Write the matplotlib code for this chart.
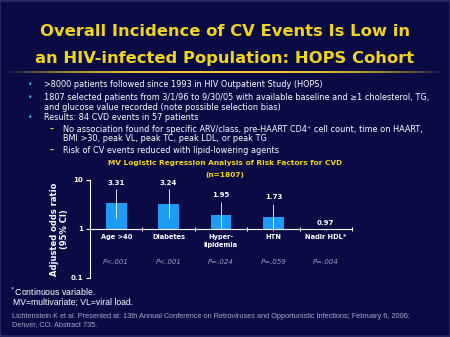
import numpy as np
import matplotlib
matplotlib.use("Agg")
import matplotlib.pyplot as plt

# risk factors from the MV logistic regression (n=1807)
factors = ["Age >40", "Diabetes", "Hyper-\nlipidemia", "HTN", "Nadir HDL*"]
odds = [3.31, 3.24, 1.95, 1.73, 0.97]
ci_low = [1.70, 1.65, 1.05, 0.92, 0.95]
ci_high = [6.50, 6.50, 3.60, 3.25, 0.99]
pvals = ["P<.001", "P<.001", "P=.024", "P=.059", "P=.004"]

bullets = [
    [">8000 patients followed since 1993 in HIV Outpatient Study (HOPS)"],
    ["1807 selected patients from 3/1/96 to 9/30/05 with available baseline and \u22651 cholesterol, TG,",
     "and glucose value recorded (note possible selection bias)"],
    ["Results: 84 CVD events in 57 patients"],
]
subbullets = [
    ["No association found for specific ARV/class, pre-HAART CD4\u207a cell count, time on HAART,",
     "BMI >30, peak VL, peak TC, peak LDL, or peak TG"],
    ["Risk of CV events reduced with lipid-lowering agents"],
]

bg = "#0a0a45"
gold = "#f2d31c"
barblue = "#1e9cf5"

W, H = 450, 337
fig = plt.figure(figsize=(4.5, 3.37), dpi=100, facecolor=bg)

def fx(px):
    return px / W

def fy(py):
    return 1 - py / H

# thin lighter frame round the slide
fig.patches.append(plt.Rectangle((0.001, 0.0015), 0.998, 0.997, transform=fig.transFigure,
                                 fill=False, edgecolor="#2c2c68", lw=1.2))

# title
fig.text(0.5, fy(32), "Overall Incidence of CV Events Is Low in", color=gold,
         fontsize=11.8, fontweight="bold", ha="center", va="center")
fig.text(0.5, fy(59), "an HIV-infected Population: HOPS Cohort", color=gold,
         fontsize=11.8, fontweight="bold", ha="center", va="center")

# gold rule under the title, bright in the middle
rule = fig.add_axes([fx(4), fy(73.5), fx(442), 2.5 / H])
grad = np.linspace(-1, 1, 400)
rgba = np.zeros((1, 400, 4))
rgba[..., 0], rgba[..., 1], rgba[..., 2] = 0.95, 0.80, 0.15
rgba[0, :, 3] = np.clip(1 - np.abs(grad) ** 3, 0, 1)
rule.imshow(rgba, aspect="auto", extent=[0, 1, 0, 1])
rule.axis("off")

# bullet list, one text per line
body = dict(color="white", fontsize=5.9, va="center")
ys = [85, 97, 118]
for y, lines in zip(ys, bullets):
    fig.text(fx(28), fy(y), "\u2022", color="#4aa8e8", fontsize=5.5, va="center")
    for i, t in enumerate(lines):
        fig.text(fx(44), fy(y + 10 * i), t, **body)
subys = [129, 150]
for y, lines in zip(subys, subbullets):
    fig.text(fx(50), fy(y), "\u2013", color=gold, fontsize=6, va="center",
             fontweight="bold")
    for i, t in enumerate(lines):
        fig.text(fx(63), fy(y + 9.5 * i), t, **body)

# chart title
fig.text(0.5, fy(162.5), "MV Logistic Regression Analysis of Risk Factors for CVD",
         color=gold, fontsize=5.3, fontweight="bold", ha="center", va="center")
fig.text(0.5, fy(175), "(n=1807)", color=gold, fontsize=5.3,
         fontweight="bold", ha="center", va="center")

# bar chart on a log scale, bars rising from an odds ratio of 1
ax = fig.add_axes([fx(90), fy(277.7), fx(262), (277.7 - 180) / H])
ax.set_facecolor("none")
ax.set_yscale("log")
ax.set_ylim(0.1, 10)
ax.set_xlim(0, len(factors))

x = np.arange(len(factors)) + 0.5
heights = np.array(odds) - 1
ax.bar(x, heights, bottom=1, width=0.4, color=barblue, zorder=2)
ax.vlines(x, ci_low, ci_high, color="white", lw=0.6, zorder=3)
for xi, hi, v in zip(x, ci_high, odds):
    ax.annotate(f"{v:.2f}", (xi, hi), xytext=(0, 2.5), textcoords="offset points",
                ha="center", va="bottom", color="white", fontsize=5,
                fontweight="bold")

for s in ["top", "right"]:
    ax.spines[s].set_visible(False)
ax.spines["left"].set_color("white")
ax.spines["left"].set_linewidth(0.8)
ax.spines["bottom"].set_position(("data", 1))
ax.spines["bottom"].set_color("white")
ax.spines["bottom"].set_linewidth(0.8)
ax.spines["bottom"].set_zorder(4)

ax.set_yticks([0.1, 1, 10])
ax.set_yticklabels(["0.1", "1", "10"])
ax.yaxis.set_minor_locator(matplotlib.ticker.NullLocator())
ax.tick_params(axis="y", colors="white", labelsize=5, length=3, width=0.8, pad=2)
for lab in ax.get_yticklabels():
    lab.set_fontweight("bold")

ax.set_xticks(np.arange(1, len(factors) + 1))
ax.set_xticklabels([])
ax.tick_params(axis="x", which="major", colors="white", direction="inout",
               length=3, width=0.8)
ax.set_xticks(x, minor=True)
ax.set_xticklabels(factors, minor=True)
ax.tick_params(axis="x", which="minor", length=0, colors="white",
               labelsize=4.8, pad=4)
for lab in ax.get_xticklabels(minor=True):
    lab.set_fontweight("bold")
    lab.set_va("top")
    lab.set_linespacing(1.3)

trans = matplotlib.transforms.blended_transform_factory(ax.transData, ax.transAxes)
for xi, p in zip(x, pvals):
    ax.text(xi, 0.165, p, transform=trans, ha="center", va="center",
            color="#9a9ab8", fontsize=5, style="italic")

ax.set_ylabel("Adjusted odds ratio\n(95% CI)", color="white", fontsize=6,
              fontweight="bold", labelpad=1, linespacing=1.2)

# footnotes
fig.text(fx(9), fy(292), "$^*$Continuous variable.", color="white",
         fontsize=6.3, family="Liberation Sans", va="center")
fig.text(fx(13), fy(302), "MV=multivariate; VL=viral load.", color="white",
         fontsize=6.2, family="Liberation Sans", va="center")
fig.text(fx(12), fy(316),
         "Lichtenstein K et al. Presented at: 13th Annual Conference on Retroviruses and Opportunistic Infections; February 6, 2006;",
         color="#a8a8c4", fontsize=5.35, family="Liberation Sans", va="center")
fig.text(fx(12), fy(325), "Denver, CO. Abstract 735.",
         color="#a8a8c4", fontsize=5.35, family="Liberation Sans", va="center")

fig.savefig("out.png", dpi=100, facecolor=bg)
